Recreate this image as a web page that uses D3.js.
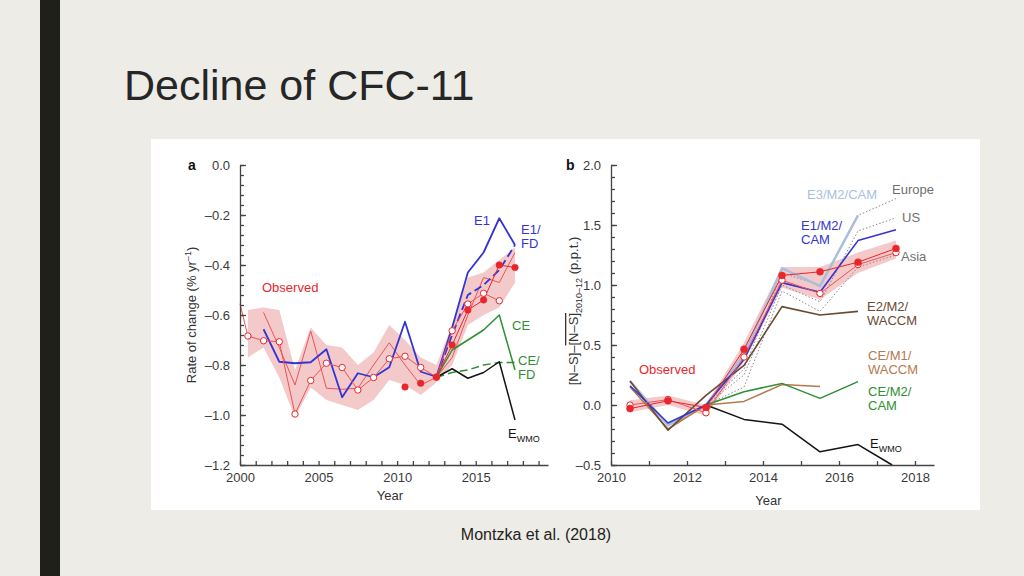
<!DOCTYPE html>
<html><head><meta charset="utf-8">
<script src="https://cdn.jsdelivr.net/npm/d3@7"></script>
<style>
html,body{margin:0;padding:0;background:#EEECE6;}
svg{display:block;}
text{font-family:"Liberation Sans",Arial,Helvetica,sans-serif;}
</style></head><body>
<svg id="chart" width="1024" height="576"></svg>
<script>
// ---------- Panel a data (rate of change, % per yr) ----------
const obsOpenYearsA = [2000, 2000.5, 2001.5, 2002.5, 2003.5, 2004.5, 2005.5, 2006.5, 2007.5, 2008.5, 2009.5, 2010.5, 2011.5, 2012.5, 2013.5, 2014.5, 2015.5, 2016.5];
const obsOpenA = [-0.555, -0.684, -0.703, -0.707, -0.996, -0.862, -0.793, -0.81, -0.90, -0.85, -0.775, -0.765, -0.81, -0.848, -0.663, -0.556, -0.513, -0.543];
const obsThinYearsA = [2001.5, 2002.5, 2003.5, 2004.5, 2005.5, 2006.5, 2007.5, 2008.5, 2009.5, 2010.5, 2011.5, 2012.5, 2013.5, 2014.5, 2015.5, 2016.5, 2017.5];
const obsThinA = [-0.59, -0.73, -0.88, -0.664, -0.893, -0.897, -0.893, -0.80, -0.711, -0.80, -0.88, -0.849, -0.77, -0.60, -0.45, -0.47, -0.35];
const obsFilledYearsA = [2010.5, 2011.5, 2012.5, 2013.5, 2014.5, 2015.5, 2016.5, 2017.5];
const obsFilledA = [-0.888, -0.873, -0.849, -0.72, -0.58, -0.54, -0.40, -0.41];
const bandYearsA = [2000.5, 2001.5, 2002.5, 2003.5, 2004.5, 2005.5, 2006.5, 2007.5, 2008.5, 2009.5, 2010.5, 2011.5, 2012.5, 2013.5, 2014.5, 2015.5, 2016.5, 2017.5];
const bandUpperA = [-0.58, -0.57, -0.58, -0.82, -0.65, -0.72, -0.73, -0.80, -0.75, -0.64, -0.70, -0.77, -0.80, -0.64, -0.45, -0.43, -0.38, -0.33];
const bandLowerA = [-0.77, -0.73, -0.85, -1.01, -0.89, -0.94, -0.96, -0.98, -0.94, -0.86, -0.88, -0.92, -0.87, -0.80, -0.64, -0.60, -0.57, -0.47];
const e1YearsA = [2001.5, 2002.5, 2003.5, 2004.5, 2005.5, 2006.5, 2007.5, 2008.5, 2009.5, 2010.5, 2011.5, 2012.5, 2013.5, 2014.5, 2015.5, 2016.5, 2017.5];
const e1A = [-0.657, -0.787, -0.793, -0.789, -0.737, -0.929, -0.833, -0.849, -0.809, -0.627, -0.827, -0.847, -0.65, -0.43, -0.35, -0.213, -0.32];
const projYearsA = [2012.5, 2013.5, 2014.5, 2015.5, 2016.5, 2017.5];
const e1fdA = [-0.849, -0.68, -0.52, -0.48, -0.42, -0.32];
const ceA = [-0.849, -0.74, -0.70, -0.66, -0.60, -0.82];
const cefdA = [-0.849, -0.83, -0.82, -0.80, -0.79, -0.79];
const ewmoA = [-0.849, -0.815, -0.853, -0.83, -0.787, -1.02];
const yMajorA = [0, -0.2, -0.4, -0.6, -0.8, -1.0, -1.2];
const xMajorA = [2000, 2005, 2010, 2015];

// ---------- Panel b data ([N-S] difference, p.p.t.) ----------
const yearsB = [2010.5, 2011.5, 2012.5, 2013.5, 2014.5, 2015.5, 2016.5, 2017.5];
const obsFilledB = [-0.03, 0.035, -0.02, 0.465, 1.08, 1.11, 1.19, 1.305];
const obsOpenB = [0.0, 0.045, -0.065, 0.40, 1.04, 0.93, 1.17, 1.27];
const bandUpperB = [0.04, 0.08, 0.0, 0.52, 1.15, 1.15, 1.27, 1.37];
const bandLowerB = [-0.06, 0.0, -0.09, 0.36, 0.98, 0.88, 1.10, 1.22];
const e1B = [0.16, -0.15, 0.0, 0.38, 1.02, 0.94, 1.37, 1.46];
const e3YearsB = [2010.5, 2011.5, 2012.5, 2013.5, 2014.5, 2015.5, 2016.5];
const e3B = [0.20, -0.17, 0.0, 0.42, 1.14, 0.99, 1.58];
const regionYearsB = [2012.5, 2013.5, 2014.5, 2015.5, 2016.5, 2017.5];
const europeB = [0.0, 0.30, 1.10, 1.00, 1.58, 1.72];
const usB = [0.0, 0.25, 1.00, 0.86, 1.45, 1.56];
const asiaB = [0.0, 0.15, 0.95, 0.78, 1.15, 1.25];
const e2YearsB = [2010.5, 2011.5, 2012.5, 2013.5, 2014.5, 2015.5, 2016.5];
const e2B = [0.20, -0.21, 0.08, 0.33, 0.82, 0.75, 0.78];
const ceM1YearsB = [2010.5, 2011.5, 2012.5, 2013.5, 2014.5, 2015.5];
const ceM1B = [0.15, -0.20, 0.0, 0.03, 0.17, 0.155];
const ceM2YearsB = [2012.5, 2013.5, 2014.5, 2015.5, 2016.5];
const ceM2B = [0.0, 0.11, 0.18, 0.055, 0.195];
const ewmoYearsB = [2012.5, 2013.5, 2014.5, 2015.5, 2016.5, 2017.4];
const ewmoB = [0.0, -0.12, -0.16, -0.39, -0.33, -0.5];
const yMajorB = [2.0, 1.5, 1.0, 0.5, 0.0, -0.5];
const xMajorB = [2010, 2012, 2014, 2016, 2018];

// ---------- colours ----------
const RED = "#E8262B", PINK = "#F1C0C1", BLUE = "#3434D2", GREEN = "#2E8F33", BLACK = "#141414";
const LBLUE = "#A9BFDD", GREY = "#8a8a8a", BROWN = "#6B4A33", ORANGE = "#B47A4E";

const svg = d3.select("#chart");
svg.append("rect").attr("width", 1024).attr("height", 576).attr("fill", "#EEECE6");
svg.append("rect").attr("x", 40).attr("y", 0).attr("width", 20).attr("height", 576).attr("fill", "#1F2119");
svg.append("text").attr("x", 124).attr("y", 100).attr("font-size", 43).attr("fill", "#262626").text("Decline of CFC-11");
svg.append("rect").attr("x", 151).attr("y", 139).attr("width", 829).attr("height", 371).attr("fill", "#ffffff");
svg.append("text").attr("x", 536).attr("y", 540).attr("text-anchor", "middle").attr("font-size", 16).attr("fill", "#222").text("Montzka et al. (2018)");

const fmt = v => d3.format(".1f")(v).replace("−", "–").replace("-", "–");
const pts = (xs, ys) => xs.map((x, i) => ({x: x, y: ys[i]}));

function axes(g, x, y, yMajor, yMinorStep, xMajor, xMinor, yTitleFn, xTitleY) {
  const [y0, y1] = y.domain();
  const yMinor = d3.range(Math.round((y1 - y0) / yMinorStep) + 1).map(i => y0 + i * yMinorStep);
  g.append("g").attr("transform", `translate(${x.range()[0]},0)`)
    .call(d3.axisLeft(y).tickValues(yMinor).tickSize(-4).tickSizeOuter(0).tickFormat(""))
    .call(s => s.selectAll("line,path").attr("stroke", "#444").attr("stroke-width", 1.3));
  g.append("g").attr("transform", `translate(${x.range()[0]},0)`)
    .call(d3.axisLeft(y).tickValues(yMajor).tickSize(-6).tickSizeOuter(0).tickFormat(fmt).tickPadding(10))
    .call(s => { s.select(".domain").remove();
      s.selectAll("line").attr("stroke", "#444").attr("stroke-width", 1.3);
      s.selectAll("text").attr("font-size", 13).attr("fill", "#3a3a3a").attr("font-family", "Liberation Sans, Arial, sans-serif"); });
  g.append("g").attr("transform", `translate(0,${y.range()[0]})`)
    .call(d3.axisBottom(x).tickValues(xMinor).tickSize(-4).tickSizeOuter(0).tickFormat(""))
    .call(s => s.selectAll("line,path").attr("stroke", "#444").attr("stroke-width", 1.3));
  g.append("g").attr("transform", `translate(0,${y.range()[0]})`)
    .call(d3.axisBottom(x).tickValues(xMajor).tickSize(0).tickPadding(8).tickFormat(d3.format("d")))
    .call(s => { s.select(".domain").remove();
      s.selectAll("text").attr("font-size", 13).attr("fill", "#3a3a3a").attr("font-family", "Liberation Sans, Arial, sans-serif"); });
  g.append("text").attr("x", (x.range()[0] + x.range()[1]) / 2 - 4).attr("y", xTitleY)
    .attr("text-anchor", "middle").attr("font-size", 13).attr("fill", "#333").text("Year");
}

function line(g, x, y, xs, ys, color, width, dash, opacity) {
  g.append("path").datum(pts(xs, ys))
    .attr("d", d3.line().x(d => x(d.x)).y(d => y(d.y)))
    .attr("fill", "none").attr("stroke", color).attr("stroke-width", width)
    .attr("stroke-dasharray", dash || null).attr("stroke-linejoin", "round")
    .attr("opacity", opacity == null ? 1 : opacity);
}
function band(g, x, y, xs, lo, hi, color, op) {
  g.append("path").datum(xs.map((v, i) => ({x: v, lo: lo[i], hi: hi[i]})))
    .attr("d", d3.area().x(d => x(d.x)).y0(d => y(d.lo)).y1(d => y(d.hi)))
    .attr("fill", color).attr("opacity", op);
}
function dots(g, x, y, xs, ys, open, r) {
  g.selectAll(null).data(pts(xs, ys).filter(d => d.x % 1 !== 0)).enter().append("circle")
    .attr("cx", d => x(d.x)).attr("cy", d => y(d.y)).attr("r", r)
    .attr("fill", open ? "#fff" : RED).attr("stroke", RED).attr("stroke-width", open ? 1 : 0.5);
}
function label(g, x, yb, lines, color, size) {
  lines.forEach((t, i) => g.append("text").attr("x", x).attr("y", yb + i * 14)
    .attr("font-size", size || 13).attr("fill", color).text(t));
}
function ewmoLabel(g, x, yb) {
  const t = g.append("text").attr("x", x).attr("y", yb).attr("font-size", 13).attr("fill", BLACK);
  t.append("tspan").text("E");
  t.append("tspan").attr("font-size", 9).attr("dy", 4).text("WMO");
}

// ---------- Panel a ----------
const xA = d3.scaleLinear().domain([2000, 2019.6]).range([240, 548]);
const yA = d3.scaleLinear().domain([-1.2, 0]).range([465, 165]);
const gA = svg.append("g");
band(gA, xA, yA, bandYearsA, bandLowerA, bandUpperA, PINK, 0.85);
line(gA, xA, yA, obsThinYearsA, obsThinA, "#EE5358", 1);
line(gA, xA, yA, e1YearsA, e1A, BLUE, 1.8);
line(gA, xA, yA, projYearsA, e1fdA, BLUE, 1.8, "8,4");
line(gA, xA, yA, projYearsA, ceA, GREEN, 1.5);
line(gA, xA, yA, projYearsA, cefdA, GREEN, 1.5, "8,4");
line(gA, xA, yA, projYearsA, ewmoA, BLACK, 1.5);
line(gA, xA, yA, obsOpenYearsA, obsOpenA, "#EE5358", 1);
line(gA, xA, yA, obsFilledYearsA.slice(2), obsFilledA.slice(2), RED, 1);
dots(gA, xA, yA, obsOpenYearsA, obsOpenA, true, 3.2);
dots(gA, xA, yA, obsFilledYearsA, obsFilledA, false, 3.3);
axes(gA, xA, yA, yMajorA, 0.04, xMajorA, d3.range(2000, 2020), null, 500);
gA.append("text").attr("x", 188).attr("y", 170).attr("font-size", 14).attr("font-weight", "bold").attr("fill", "#111").text("a");
const tA = gA.append("text").attr("transform", "translate(196,315) rotate(-90)").attr("text-anchor", "middle")
  .attr("font-size", 13).attr("fill", "#333");
tA.append("tspan").text("Rate of change (% yr");
tA.append("tspan").attr("font-size", 9).attr("dy", -5).text("–1");
tA.append("tspan").attr("dy", 5).text(")");
label(gA, 262, 292, ["Observed"], RED);
label(gA, 474, 225, ["E1"], BLUE);
label(gA, 521, 234, ["E1/", "FD"], BLUE);
label(gA, 512, 330, ["CE"], GREEN);
label(gA, 518, 365, ["CE/", "FD"], GREEN);
ewmoLabel(gA, 508, 438);

// ---------- Panel b ----------
const xB = d3.scaleLinear().domain([2010, 2018.5]).range([611, 934]);
const yB = d3.scaleLinear().domain([-0.5, 2.0]).range([465, 165]);
const gB = svg.append("g");
band(gB, xB, yB, yearsB, bandLowerB, bandUpperB, PINK, 0.85);
line(gB, xB, yB, regionYearsB, europeB, GREY, 1, "1.5,2");
line(gB, xB, yB, regionYearsB, usB, GREY, 1, "1.5,2");
line(gB, xB, yB, regionYearsB, asiaB, GREY, 1, "1.5,2");
line(gB, xB, yB, e3YearsB, e3B, LBLUE, 2.5);
line(gB, xB, yB, ewmoYearsB, ewmoB, BLACK, 1.5);
line(gB, xB, yB, ceM1YearsB, ceM1B, ORANGE, 1.5);
line(gB, xB, yB, ceM2YearsB, ceM2B, GREEN, 1.5);
line(gB, xB, yB, e2YearsB, e2B, BROWN, 1.6);
line(gB, xB, yB, yearsB, e1B, BLUE, 1.6);
line(gB, xB, yB, yearsB, obsOpenB, "#EE5358", 1);
line(gB, xB, yB, yearsB, obsFilledB, RED, 1);
dots(gB, xB, yB, yearsB, obsOpenB, true, 3.2);
dots(gB, xB, yB, yearsB, obsFilledB, false, 3.5);
axes(gB, xB, yB, yMajorB, 0.1, xMajorB, d3.range(2010, 2019), null, 505);
gB.append("text").attr("x", 566).attr("y", 170).attr("font-size", 14).attr("font-weight", "bold").attr("fill", "#111").text("b");
const tB = gB.append("text").attr("transform", "translate(578,311) rotate(-90)").attr("text-anchor", "middle")
  .attr("font-size", 13).attr("fill", "#333");
tB.append("tspan").text("[N–S]–");
tB.append("tspan").style("text-decoration", "overline").text("[N–S]");
tB.append("tspan").attr("font-size", 9).attr("dy", 4).text("2010–12");
tB.append("tspan").attr("dy", -4).text(" (p.p.t.)");
label(gB, 807, 199, ["E3/M2/CAM"], LBLUE);
label(gB, 892, 194, ["Europe"], "#707070");
label(gB, 902, 222, ["US"], "#707070");
label(gB, 801, 230, ["E1/M2/", "CAM"], BLUE);
label(gB, 901, 261, ["Asia"], "#707070");
label(gB, 867, 311, ["E2/M2/", "WACCM"], BROWN);
label(gB, 639, 374, ["Observed"], RED);
label(gB, 868, 360, ["CE/M1/", "WACCM"], ORANGE);
label(gB, 868, 396, ["CE/M2/", "CAM"], GREEN);
ewmoLabel(gB, 870, 448);
</script></body></html>
